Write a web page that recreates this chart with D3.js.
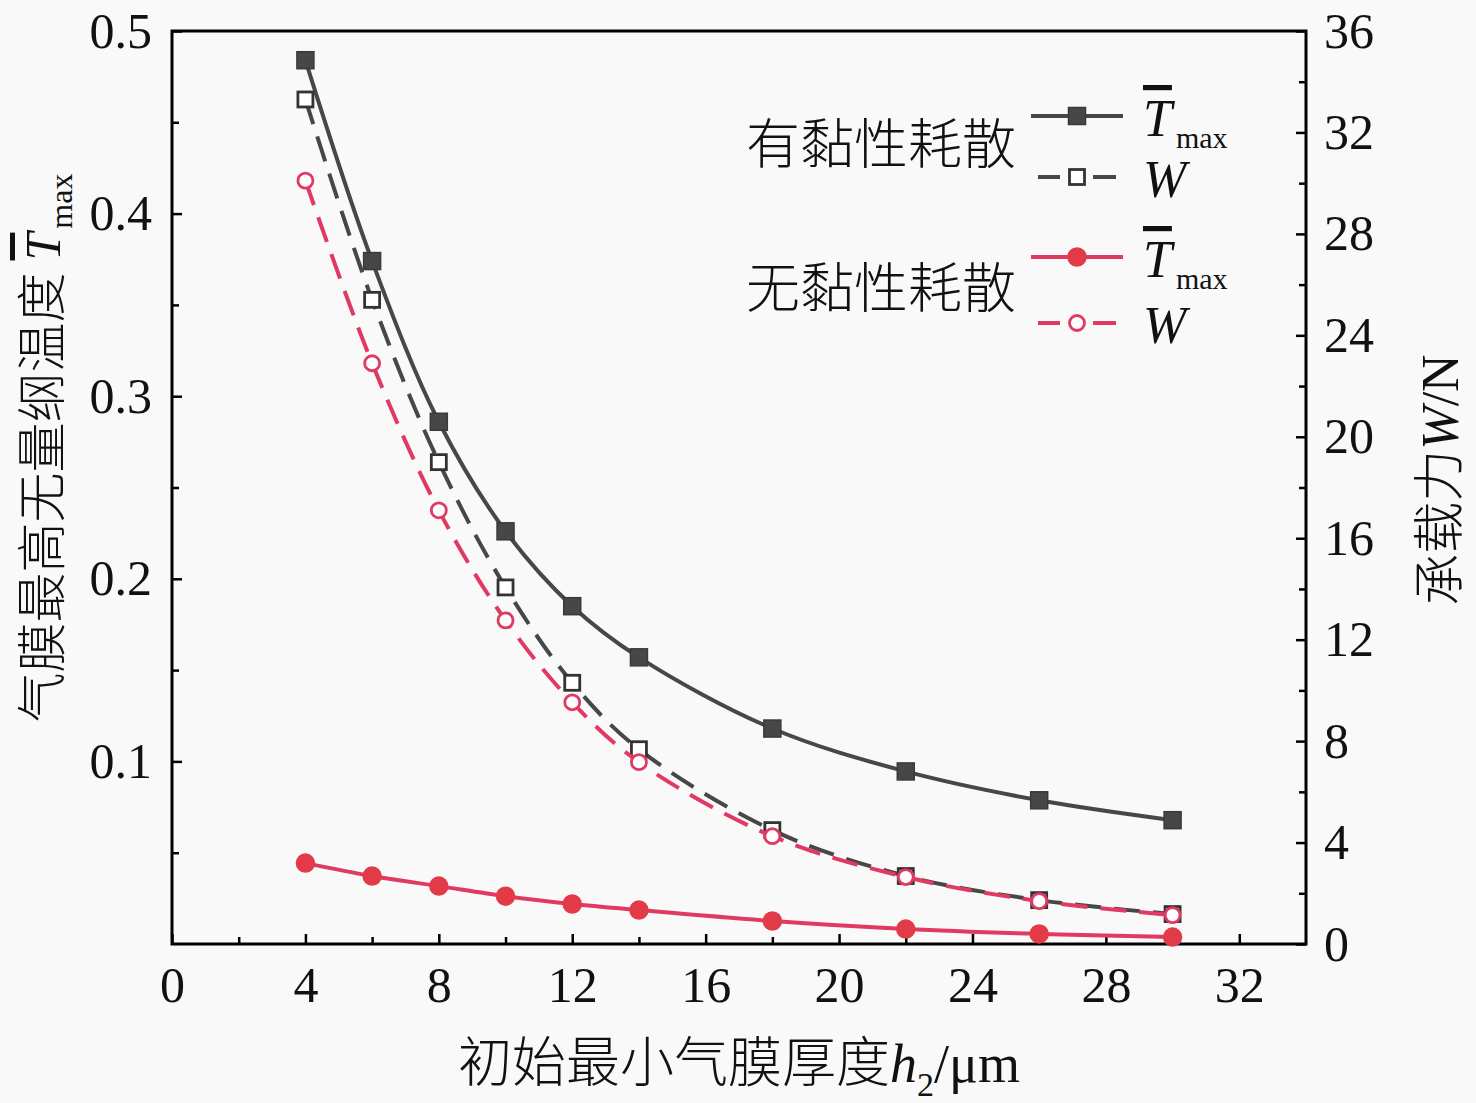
<!DOCTYPE html>
<html lang="zh-CN">
<head>
<meta charset="utf-8">
<title>h2 chart</title>
<style>
  body { margin: 0; background: #f9f9f9; }
  svg text { font-family: "Liberation Serif", "Times New Roman", "Noto Sans CJK SC", serif; fill: #111; }
  .cjk { font-family: "Noto Sans CJK SC", sans-serif; font-weight: 300; }
</style>
<script src="https://d3js.org/d3.v7.min.js"></script>
</head>
<body>
<svg id="chart" width="1476" height="1103"></svg>
<script>
// 初始最小气膜厚度 h2 (μm)
var h2 = [4, 6, 8, 10, 12, 14, 18, 22, 26, 30];
// 有黏性耗散
var tViscous = [0.484, 0.374, 0.286, 0.226, 0.185, 0.157, 0.118, 0.0945, 0.0787, 0.0678];
var wViscous = [33.3, 25.4, 19.0, 14.06, 10.3, 7.68, 4.49, 2.68, 1.73, 1.18];
// 无黏性耗散
var tInviscid = [0.0443, 0.0372, 0.0317, 0.0262, 0.0219, 0.0186, 0.0126, 0.0082, 0.0055, 0.0038];
var wInviscid = [30.1, 22.9, 17.1, 12.76, 9.53, 7.17, 4.25, 2.64, 1.69, 1.14];

var xTicks = [0, 4, 8, 12, 16, 20, 24, 28, 32];
var xMinor = [2, 6, 10, 14, 18, 22, 26, 30];
var yLTicks = [0.1, 0.2, 0.3, 0.4, 0.5];
var yLMinor = [0.05, 0.15, 0.25, 0.35, 0.45];
var yRTicks = [0, 4, 8, 12, 16, 20, 24, 28, 32, 36];
var yRMinor = [2, 6, 10, 14, 18, 22, 26, 30, 34];

var gray = "#474747", red = "#e03a62", redFill = "#e33a48";

var svg = d3.select("#chart");
var L = 172, R = 1306, T = 31, B = 944;

var x = d3.scaleLinear().domain([0, 34]).range([L, R]);
var yL = d3.scaleLinear().domain([0, 0.5]).range([B, T]);
var yR = d3.scaleLinear().domain([0, 36]).range([B, T]);

function styleAxis(g) {
  g.select(".domain").remove();
  g.selectAll(".tick line").attr("stroke", "#000").attr("stroke-width", 2.5);
}

// minor ticks
svg.append("g").attr("transform", "translate(0," + B + ")")
  .call(d3.axisBottom(x).tickValues(xMinor).tickSize(-7).tickFormat(""))
  .call(styleAxis);
svg.append("g").attr("transform", "translate(" + L + ",0)")
  .call(d3.axisLeft(yL).tickValues(yLMinor).tickSize(-7).tickFormat(""))
  .call(styleAxis);
svg.append("g").attr("transform", "translate(" + R + ",0)")
  .call(d3.axisRight(yR).tickValues(yRMinor).tickSize(-7).tickFormat(""))
  .call(styleAxis);

// major ticks + labels
svg.append("g").attr("transform", "translate(0," + B + ")")
  .call(d3.axisBottom(x).tickValues(xTicks).tickSize(-10).tickPadding(22).tickFormat(d3.format("d")))
  .call(styleAxis);
svg.append("g").attr("transform", "translate(" + L + ",0)")
  .call(d3.axisLeft(yL).tickValues(yLTicks).tickSize(-10).tickPadding(20).tickFormat(d3.format(".1f")))
  .call(styleAxis);
svg.append("g").attr("transform", "translate(" + R + ",0)")
  .call(d3.axisRight(yR).tickValues(yRTicks).tickSize(-10).tickPadding(18).tickFormat(d3.format("d")))
  .call(styleAxis);

svg.selectAll(".tick text").attr("fill", "#111").style("font-size", "50px");

// frame
svg.append("rect").attr("x", L).attr("y", T).attr("width", R - L).attr("height", B - T)
  .attr("fill", "none").attr("stroke", "#000").attr("stroke-width", 3);

var series = [
  { vals: tViscous, y: yL, color: gray, dash: null, shape: "square", fill: gray },
  { vals: wViscous, y: yR, color: gray, dash: "26,13", shape: "square", fill: "#fff" },
  { vals: tInviscid, y: yL, color: red, dash: null, shape: "circle", fill: redFill },
  { vals: wInviscid, y: yR, color: red, dash: "26,13", shape: "circle", fill: "#fff" }
];

function drawMarker(g, s, cx, cy) {
  if (s.shape === "square") {
    var sz = s.fill === "#fff" ? 15 : 17;
    g.append("rect").attr("x", cx - sz / 2).attr("y", cy - sz / 2)
      .attr("width", sz).attr("height", sz)
      .attr("fill", s.fill).attr("stroke", s.fill === "#fff" ? "#333" : "#3a3a3a")
      .attr("stroke-width", s.fill === "#fff" ? 2.8 : 1.5);
  } else {
    g.append("circle").attr("cx", cx).attr("cy", cy).attr("r", s.fill === "#fff" ? 7.5 : 9)
      .attr("fill", s.fill).attr("stroke", s.fill === "#fff" ? red : redFill)
      .attr("stroke-width", s.fill === "#fff" ? 2.8 : 1.5);
  }
}

series.forEach(function (s) {
  var line = d3.line().x(function (d, i) { return x(h2[i]); })
    .y(function (d) { return s.y(d); }).curve(d3.curveCatmullRom.alpha(0.5));
  svg.append("path").attr("d", line(s.vals)).attr("fill", "none")
    .attr("stroke", s.color).attr("stroke-width", 4)
    .attr("stroke-dasharray", s.dash);
  var g = svg.append("g");
  s.vals.forEach(function (v, i) { drawMarker(g, s, x(h2[i]), s.y(v)); });
});

// legend
var legRows = [116, 177, 257, 323];
var leg = svg.append("g");
series.forEach(function (s, i) {
  var yy = legRows[i];
  if (s.dash) {
    leg.append("line").attr("x1", 1038).attr("x2", 1060).attr("y1", yy).attr("y2", yy)
      .attr("stroke", s.color).attr("stroke-width", 4);
    leg.append("line").attr("x1", 1093).attr("x2", 1116).attr("y1", yy).attr("y2", yy)
      .attr("stroke", s.color).attr("stroke-width", 4);
  } else {
    leg.append("line").attr("x1", 1031).attr("x2", 1123).attr("y1", yy).attr("y2", yy)
      .attr("stroke", s.color).attr("stroke-width", 4);
  }
  drawMarker(leg, s, 1077, yy);
  var t = leg.append("text").attr("x", 1143).attr("y", yy + 20).style("font-size", "52px");
  if (s.y === yL) {
    t.append("tspan").attr("font-style", "italic").style("text-decoration", "overline").text("T");
    t.append("tspan").attr("dx", 4).attr("dy", 12).style("font-size", "30px").text("max");
  } else {
    t.append("tspan").attr("font-style", "italic").text("W");
  }
});
leg.append("text").attr("class", "cjk").attr("x", 746).attr("y", 164)
  .style("font-size", "54px").text("有黏性耗散");
leg.append("text").attr("class", "cjk").attr("x", 746).attr("y", 308)
  .style("font-size", "54px").text("无黏性耗散");

// axis titles
var xt = svg.append("text").attr("x", (L + R) / 2).attr("y", 1082)
  .attr("text-anchor", "middle").style("font-size", "54px");
xt.append("tspan").attr("class", "cjk").text("初始最小气膜厚度");
xt.append("tspan").attr("font-style", "italic").text("h");
xt.append("tspan").attr("dy", 14).style("font-size", "34px").text("2");
xt.append("tspan").attr("dy", -14).text("/μm");

var ylt = svg.append("text").attr("transform", "translate(60,448) rotate(-90)")
  .attr("text-anchor", "middle").style("font-size", "50px");
ylt.append("tspan").attr("class", "cjk").text("气膜最高无量纲温度");
ylt.append("tspan").attr("dx", 12).attr("font-style", "italic").style("text-decoration", "overline").text("T");
ylt.append("tspan").attr("dx", 4).attr("dy", 12).style("font-size", "32px").text("max");

var yrt = svg.append("text").attr("transform", "translate(1458,480) rotate(-90)")
  .attr("text-anchor", "middle").style("font-size", "52px");
yrt.append("tspan").attr("class", "cjk").text("承载力");
yrt.append("tspan").attr("font-style", "italic").text("W");
yrt.append("tspan").text("/N");
</script>
</body>
</html>
